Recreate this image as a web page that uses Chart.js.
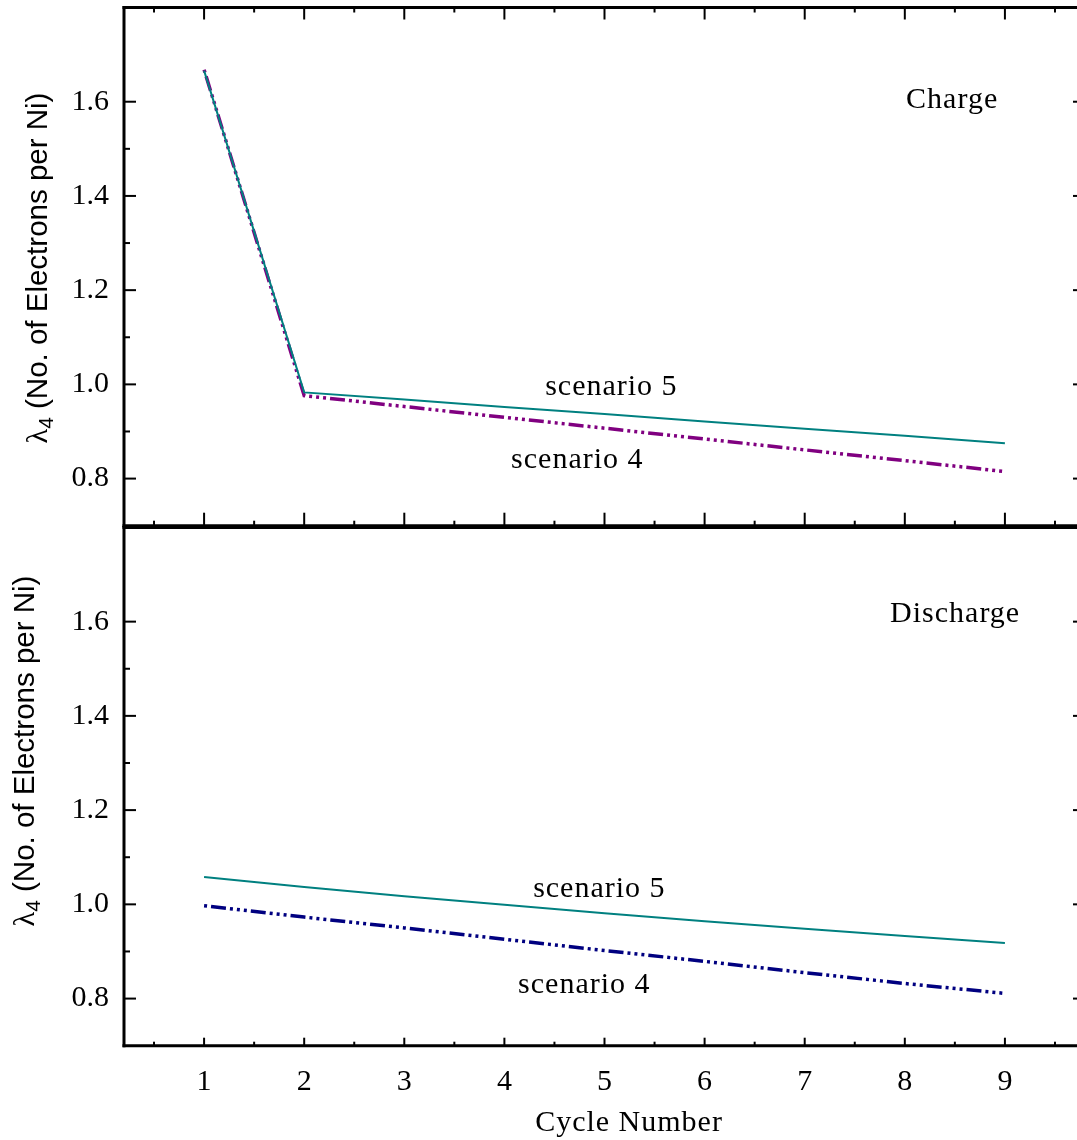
<!DOCTYPE html>
<html>
<head>
<meta charset="utf-8">
<script src="https://cdn.jsdelivr.net/npm/chart.js@4.4.1/dist/chart.umd.min.js"></script>
<style>
  html, body { margin: 0; padding: 0; overflow: hidden; background: #fff; width: 1077px; height: 1140px; }
  canvas { position: absolute; left: 0; }
  #charge-chart { top: 0; }
  #discharge-chart { top: 520px; }
</style>
</head>
<body>
<canvas id="charge-chart" width="1095" height="530"></canvas>
<canvas id="discharge-chart" width="1095" height="620"></canvas>
<script>
// values
const CYCLES = [1, 2, 3, 4, 5, 6, 7, 8, 9];
const CHARGE_S5 = [1.666, 0.983, 0.968, 0.952, 0.937, 0.921, 0.906, 0.891, 0.875];
const CHARGE_S4 = [1.668, 0.976, 0.953, 0.930, 0.907, 0.884, 0.861, 0.838, 0.815];
const DISCHARGE_S5 = [1.058, 1.037, 1.017, 0.999, 0.981, 0.964, 0.948, 0.933, 0.918];
const DISCHARGE_S4 = [0.997, 0.973, 0.950, 0.926, 0.902, 0.879, 0.855, 0.832, 0.811];

const X_TICKS = [1, 2, 3, 4, 5, 6, 7, 8, 9];
const X_MINOR = [0.5, 1.5, 2.5, 3.5, 4.5, 5.5, 6.5, 7.5, 8.5, 9.5];
const Y_TICKS = [0.8, 1.0, 1.2, 1.4, 1.6];
const Y_MINOR = [0.9, 1.1, 1.3, 1.5];

const TEAL = "#008080";
const PURPLE = "#800080";
const NAVY = "#000080";
const SERIF = '"Liberation Serif", "Times New Roman", serif';
const SANS = '"Liberation Sans", Arial, sans-serif';
const DASH_DOTS = [15, 4, 3, 4, 3, 4, 3, 4];

Chart.defaults.font.family = SERIF;
Chart.defaults.font.size = 30;
Chart.defaults.color = "#000";

function toPoints(values) {
  return CYCLES.map((c, i) => ({ x: c, y: values[i] }));
}

function line(ctx, x1, y1, x2, y2) {
  ctx.beginPath();
  ctx.moveTo(x1, y1);
  ctx.lineTo(x2, y2);
  ctx.stroke();
}

function drawYTitle(ctx, bx, cy) {
  const rest = " (No. of Electrons per Ni)";
  ctx.save();
  ctx.translate(bx, cy);
  ctx.rotate(-Math.PI / 2);
  ctx.fillStyle = "#000";
  ctx.textAlign = "left";
  ctx.textBaseline = "alphabetic";
  ctx.font = "30px " + SERIF;
  const w1 = ctx.measureText("λ").width;
  ctx.font = "21px " + SANS;
  const w2 = ctx.measureText("4").width;
  ctx.font = "29.5px " + SANS;
  const w3 = ctx.measureText(rest).width;
  let x = -(w1 + w2 + w3) / 2;
  ctx.font = "30px " + SERIF;
  ctx.fillText("λ", x, 0);
  x += w1;
  ctx.font = "21px " + SANS;
  ctx.fillText("4", x, 6);
  x += w2;
  ctx.font = "29.5px " + SANS;
  ctx.fillText(rest, x, 0);
  ctx.restore();
}

// frame, inward ticks, titles and in-plot labels
function panelPlugin(cfg) {
  return {
    id: "panel",
    afterDraw(chart) {
      const ctx = chart.ctx;
      const { left, right, top, bottom } = chart.chartArea;
      const xs = chart.scales.x;
      const ys = chart.scales.y;
      ctx.save();
      ctx.strokeStyle = "#000";
      ctx.lineCap = "square";
      ctx.lineWidth = 3;
      line(ctx, left, top, left, bottom);
      line(ctx, right, top, right, bottom);
      line(ctx, left, bottom, right, bottom);
      line(ctx, left, top, right, top);

      ctx.lineCap = "butt";
      ctx.lineWidth = 2;
      Y_TICKS.forEach(v => {
        const py = ys.getPixelForValue(v);
        line(ctx, left, py, left + 12, py);
        line(ctx, right, py, right - 12, py);
      });
      Y_MINOR.forEach(v => {
        const py = ys.getPixelForValue(v);
        line(ctx, left, py, left + 6, py);
        line(ctx, right, py, right - 6, py);
      });
      X_TICKS.forEach(v => {
        const px = xs.getPixelForValue(v);
        if (cfg.topTicks) line(ctx, px, top, px, top + 12);
        line(ctx, px, bottom, px, bottom - cfg.bottomMajor);
      });
      X_MINOR.forEach(v => {
        const px = xs.getPixelForValue(v);
        if (cfg.topTicks) line(ctx, px, top, px, top + 5);
        line(ctx, px, bottom, px, bottom - cfg.bottomMinor);
      });

      ctx.fillStyle = "#000";
      ctx.font = "30px " + SERIF;
      ctx.letterSpacing = "1px";
      ctx.textAlign = "left";
      ctx.textBaseline = "alphabetic";
      cfg.labels.forEach(l => {
        ctx.fillText(l.text, xs.getPixelForValue(l.x), ys.getPixelForValue(l.y));
      });
      if (cfg.xTitle) {
        ctx.textAlign = "center";
        ctx.fillText("Cycle Number", xs.getPixelForValue(5.245), cfg.xTitleY);
      }
      ctx.letterSpacing = "0px";
      drawYTitle(ctx, cfg.titleX, cfg.titleY);
      ctx.restore();
    },
  };
}

function yScale() {
  return {
    type: "linear",
    min: 0.7,
    max: 1.8,
    afterBuildTicks: s => { s.ticks = Y_TICKS.map(v => ({ value: v })); },
    afterFit: s => { s.width = 124; s.paddingTop = 0; s.paddingBottom = 0; },
    grid: { display: false, drawTicks: false },
    border: { display: false },
    ticks: { padding: 15, font: { size: 30 }, callback: v => v.toFixed(1) },
  };
}

function makeChart(id, s5, s4, s4Color, xAxis, padding, plugin) {
  const ctx = document.getElementById(id).getContext("2d");
  return new Chart(ctx, {
    type: "line",
    data: {
      datasets: [
        {
          label: "scenario 5",
          data: toPoints(s5),
          borderColor: TEAL,
          borderWidth: 2,
          pointRadius: 0,
          tension: 0,
          fill: false,
        },
        {
          label: "scenario 4",
          data: toPoints(s4),
          borderColor: s4Color,
          borderWidth: 3.5,
          borderDash: DASH_DOTS,
          borderDashOffset: 33,
          borderCapStyle: "butt",
          pointRadius: 0,
          tension: 0,
          fill: false,
        },
      ],
    },
    options: {
      responsive: false,
      animation: false,
      layout: { padding },
      plugins: { legend: { display: false }, tooltip: { enabled: false } },
      scales: { x: xAxis, y: yScale() },
    },
    plugins: [plugin],
  });
}

makeChart(
  "charge-chart", CHARGE_S5, CHARGE_S4, PURPLE,
  { type: "linear", min: 0.2, max: 9.8, display: false },
  { top: 7.5, bottom: 4.3, left: 0, right: 10 },
  panelPlugin({
    topTicks: true, bottomMajor: 13, bottomMinor: 5,
    titleX: 47, titleY: 268,
    labels: [
      { text: "scenario 5", x: 4.407, y: 0.978 },
      { text: "scenario 4", x: 4.067, y: 0.823 },
      { text: "Charge", x: 8.013, y: 1.587 },
    ],
  })
);

makeChart(
  "discharge-chart", DISCHARGE_S5, DISCHARGE_S4, NAVY,
  {
    type: "linear",
    min: 0.2,
    max: 9.8,
    afterBuildTicks: s => { s.ticks = X_TICKS.map(v => ({ value: v })); },
    afterFit: s => { s.height = 94.3; s.paddingLeft = 0; s.paddingRight = 0; },
    grid: { display: false, drawTicks: false },
    border: { display: false },
    ticks: { padding: 18, font: { size: 30 }, maxRotation: 0, autoSkip: false, callback: v => String(v) },
  },
  { top: 7.4, bottom: 0, left: 0, right: 10 },
  panelPlugin({
    topTicks: false, bottomMajor: 8, bottomMinor: 4,
    titleX: 34, titleY: 231,
    xTitle: true, xTitleY: 611,
    labels: [
      { text: "scenario 5", x: 4.287, y: 1.016 },
      { text: "scenario 4", x: 4.137, y: 0.812 },
      { text: "Discharge", x: 7.853, y: 1.600 },
    ],
  })
);
</script>
</body>
</html>
